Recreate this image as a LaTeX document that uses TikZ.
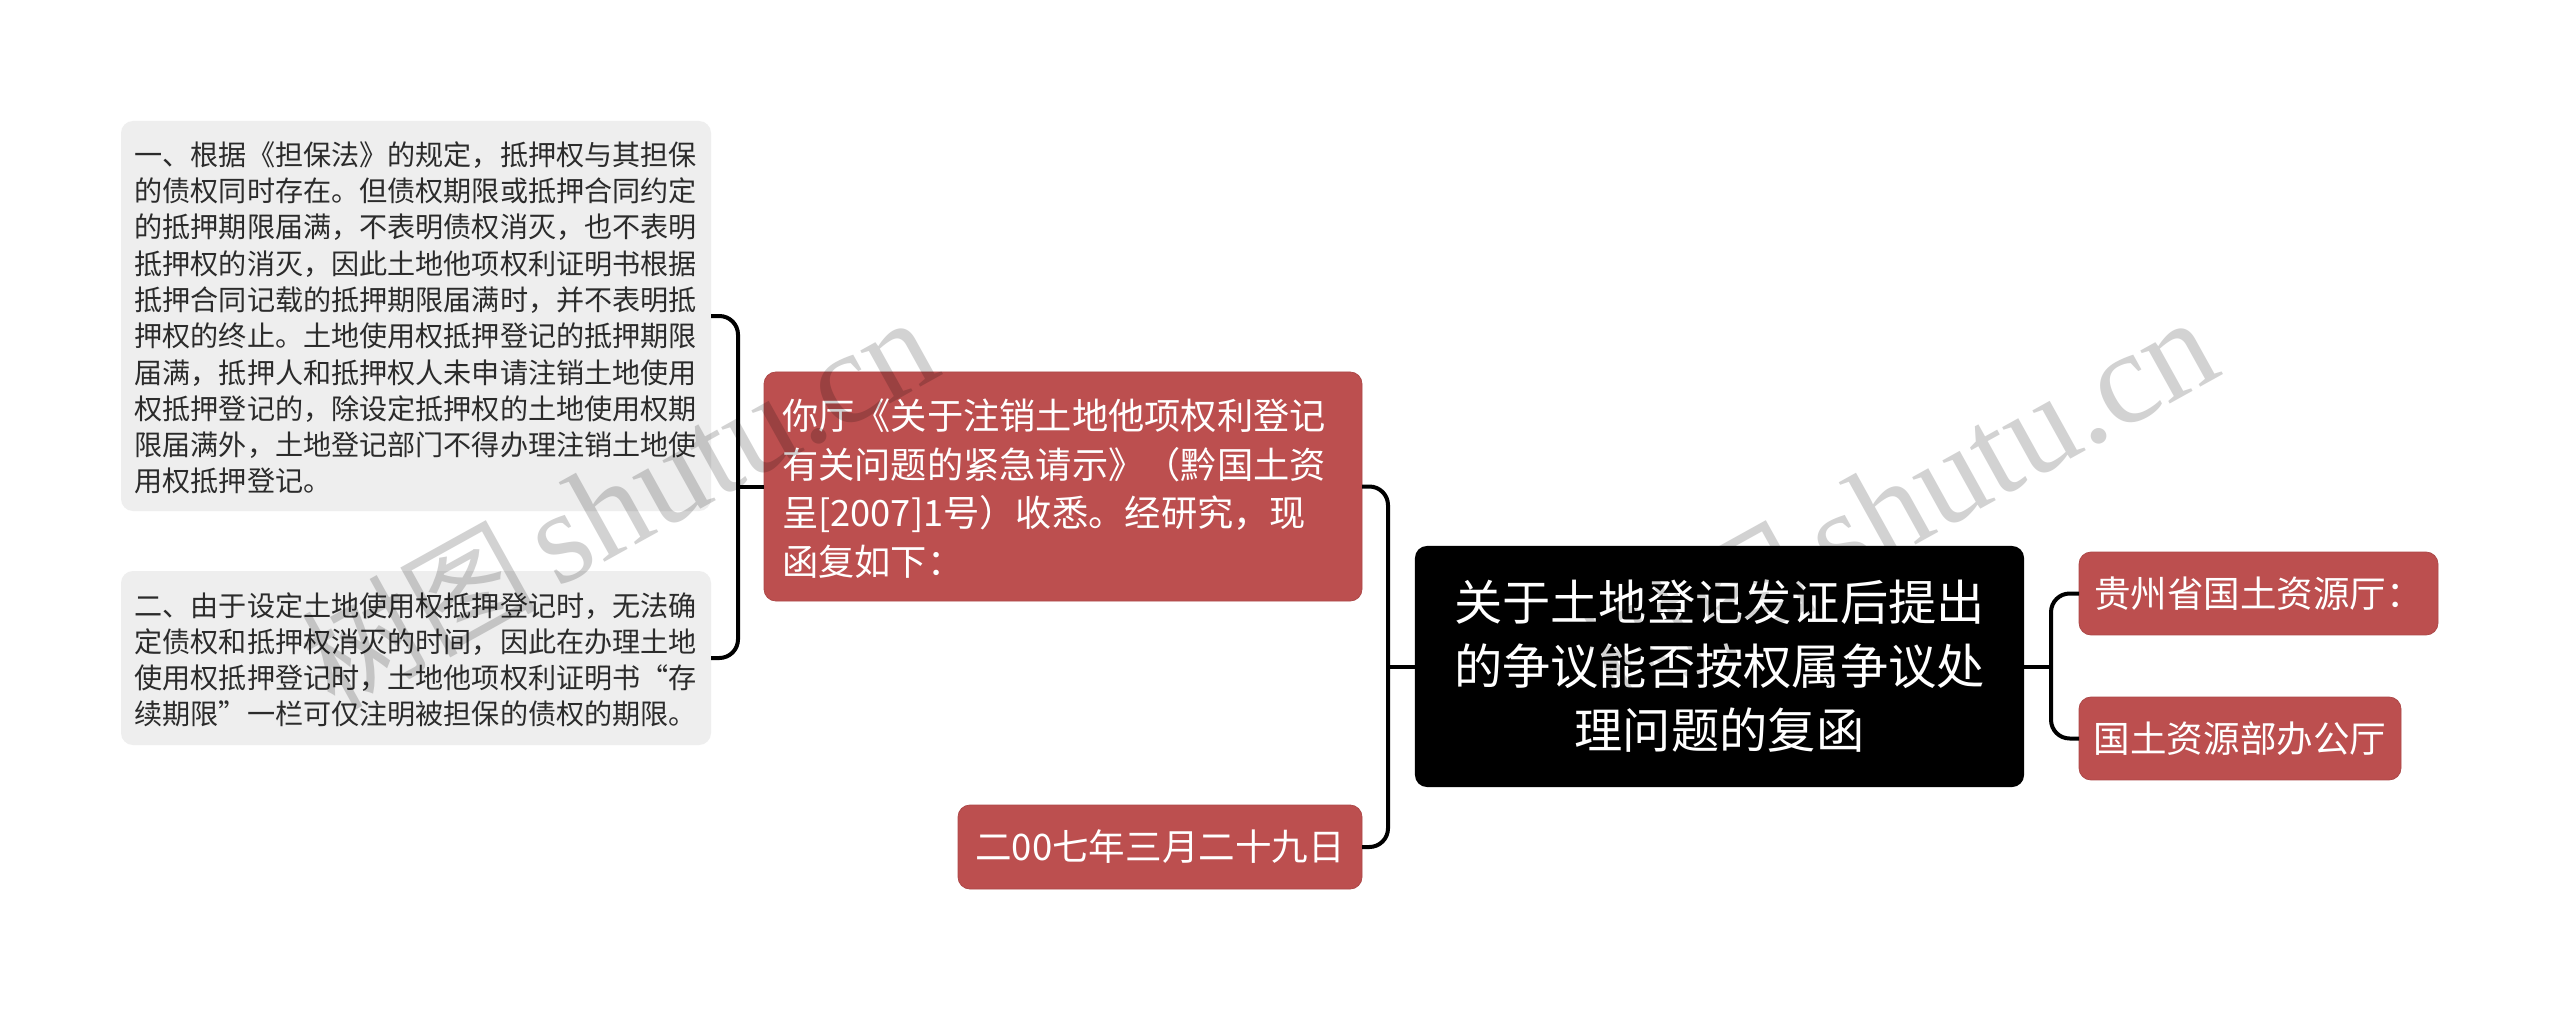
\documentclass[tikz,border=0pt]{standalone}
\usepackage{fontspec}
\setmainfont{Noto Sans CJK SC}
\newfontfamily\wmfont{Liberation Serif}
\usetikzlibrary{calc}
\definecolor{leafgray}{HTML}{EEEEEE}
\definecolor{leadtext}{HTML}{2B2B2B}
\definecolor{nodered}{HTML}{BC4F4F}
\definecolor{wmgray}{HTML}{D2D2D2}
\newcommand{\lfont}{\fontsize{10.54pt}{13.62pt}\selectfont\lineskiplimit=-100pt\relax}
\newcommand{\rfont}{\fontsize{13.6pt}{18.15pt}\selectfont\lineskiplimit=-100pt\relax}
\newcommand{\sfont}{\fontsize{13.7pt}{18.15pt}\selectfont}
\newcommand{\tfont}{\fontsize{18.1pt}{24pt}\selectfont\lineskiplimit=-100pt\relax}
\tikzset{
  x=0.375pt,y=-0.375pt,
  box/.style={rectangle,rounded corners=4.5pt,outer sep=0pt,inner ysep=0pt,anchor=center},
  leafbox/.style={box,fill=leafgray,text=leadtext,font=\lfont,align=left,text width=211pt,inner xsep=5.125pt},
  redbox/.style={box,fill=nodered,draw=nodered!92!black,line width=0.3pt,text=white,font=\sfont},
  redtext/.style={redbox,font=\rfont,align=left,text width=210.75pt,inner xsep=6.75pt},
  rootbox/.style={box,fill=black,text=white,font=\tfont,align=center},
  link/.style={draw=black,line width=1.5pt,rounded corners=7pt},
  stem/.style={draw=black,line width=1.5pt},
  wm/.style={text=wmgray,rotate=29,anchor=base east,inner sep=0pt,font=\fontsize{49.5pt}{49.5pt}\selectfont},
}
\newcommand{\wmtext}{{\fontsize{44pt}{44pt}\selectfont 树图}\hspace{0.15em}{\wmfont shutu.cn}}
\begin{document}
\begin{tikzpicture}
\useasboundingbox[fill=white] (0,0) rectangle (2560,1009);
\node[leafbox,minimum width=221.25pt,minimum height=146.25pt] (a) at (416,316) {\rule{0pt}{10.3pt}一、根据《担保法》的规定，抵押权与其担保\\的债权同时存在。但债权期限或抵押合同约定\\的抵押期限届满，不表明债权消灭，也不表明\\抵押权的消灭，因此土地他项权利证明书根据\\抵押合同记载的抵押期限届满时，并不表明抵\\押权的终止。土地使用权抵押登记的抵押期限\\届满，抵押人和抵押权人未申请注销土地使用\\权抵押登记的，除设定抵押权的土地使用权期\\限届满外，土地登记部门不得办理注销土地使\\用权抵押登记。};
\node[leafbox,minimum width=221.25pt,minimum height=65.25pt] (b) at (416,658) {\rule{0pt}{10.3pt}二、由于设定土地使用权抵押登记时，无法确\\定债权和抵押权消灭的时间，因此在办理土地\\使用权抵押登记时，土地他项权利证明书“存\\续期限”一栏可仅注明被担保的债权的期限。};
\node[redtext,minimum width=224.25pt,minimum height=85.9pt] (c) at (1063,486.5) {\rule{0pt}{13.1pt}你厅《关于注销土地他项权利登记\\有关问题的紧急请示》（黔国土资\\呈[2007]1号）收悉。经研究，现\\函复如下：};
\node[redbox,minimum width=151.5pt,minimum height=31.5pt] (d) at (1160,847) {二00七年三月二十九日};
\node[rootbox,minimum width=228.4pt,minimum height=90.4pt] (r) at (1719.5,666.5) {关于土地登记发证后提出\\的争议能否按权属争议处\\理问题的复函};
\node[redbox,minimum width=134.6pt,minimum height=31.1pt] (e) at (2258.5,593.5) {贵州省国土资源厅：};
\node[redbox,minimum width=120.75pt,minimum height=31.1pt] (f) at (2240,738.5) {国土资源部办公厅};
\coordinate (jl) at (738,486.5);
\coordinate (jm) at (1388,666.5);
\coordinate (jr) at (2051,666.5);
\draw[link] (a.east) -| (jl) |- (b.east);
\draw[stem] (jl) -- (c.west);
\draw[link] (c.east) -| (jm) |- (d.east);
\draw[stem] (jm) -- (r.west);
\draw[link] (e.west) -| (jr) |- (f.west);
\draw[stem] (r.east) -- (jr);
\begin{scope}[blend mode=multiply]
\node[wm] (w1) at (946,373) {\wmtext};
\node[wm] (w2) at (2226,373) {\wmtext};
\end{scope}
\end{tikzpicture}
\end{document}
